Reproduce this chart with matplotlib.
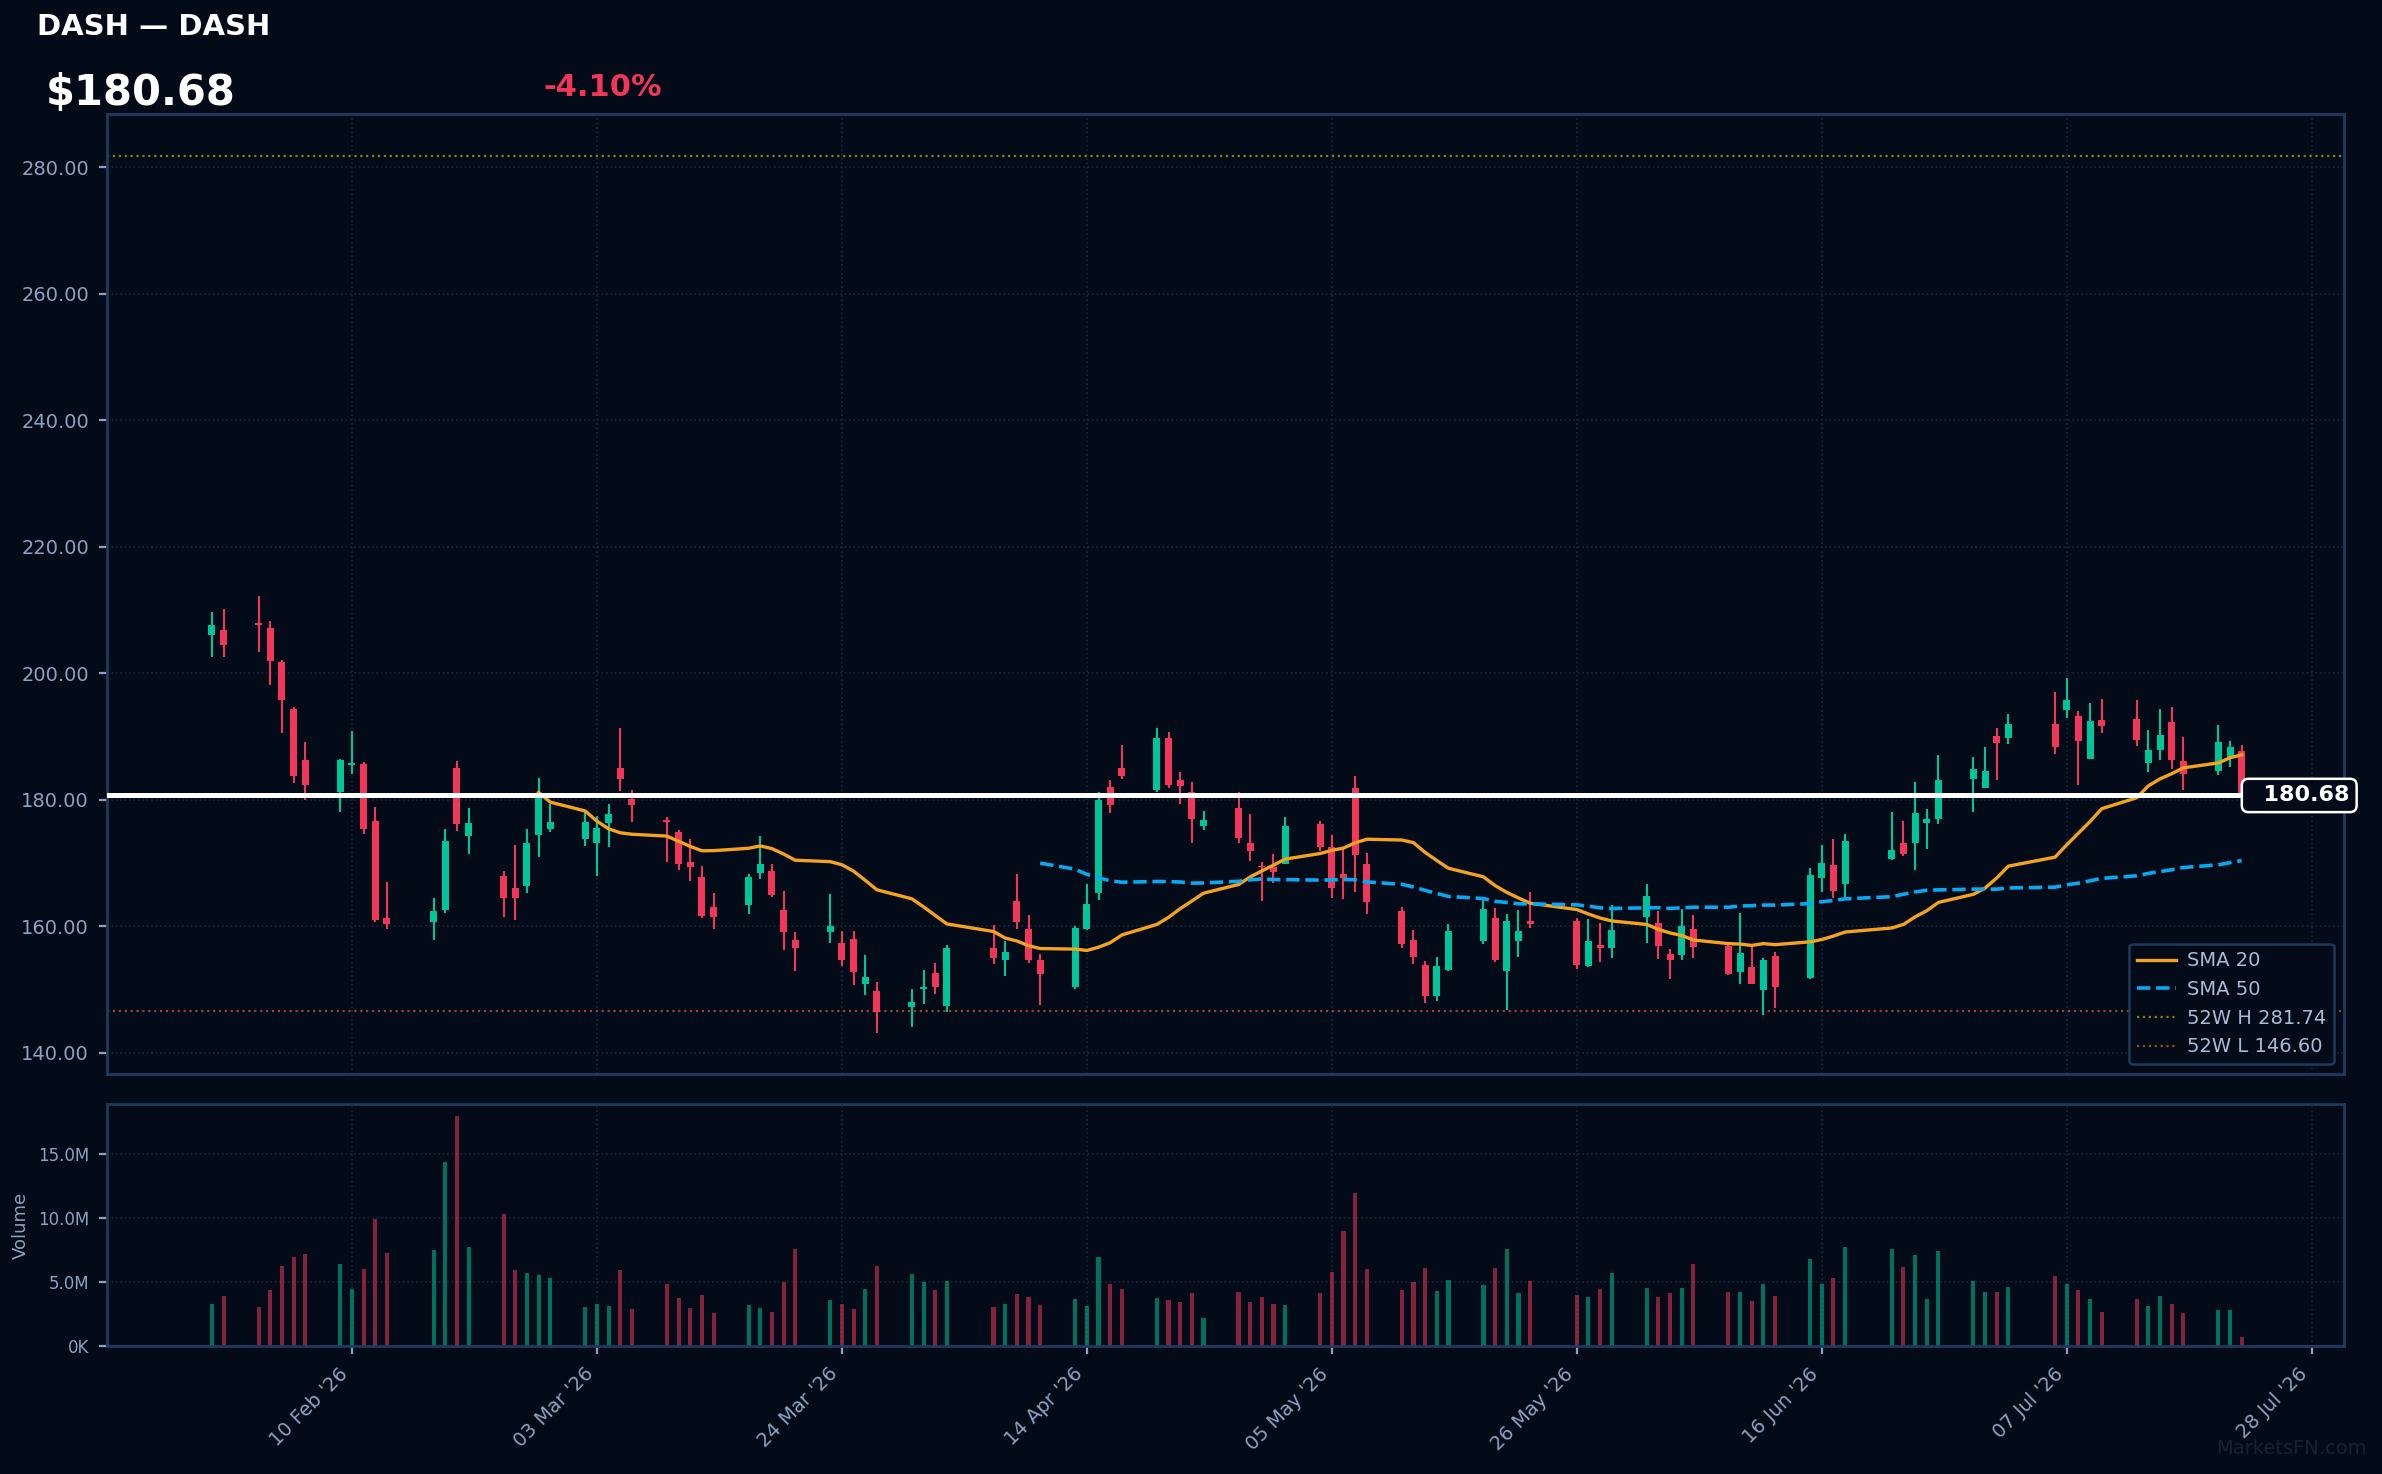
import matplotlib
matplotlib.use("Agg")
import matplotlib.pyplot as plt
import matplotlib.dates as mdates
from matplotlib.lines import Line2D
from matplotlib.ticker import FuncFormatter, FixedLocator
from matplotlib.transforms import blended_transform_factory
import numpy as np
import pandas as pd

# ---------------- data ----------------
ticker = "DASH"
company = "DASH"
high_52w = 281.74
low_52w = 146.60

dates = [
    "2026-01-29", "2026-01-30", "2026-02-02", "2026-02-03", "2026-02-04", "2026-02-05", "2026-02-06",
    "2026-02-09", "2026-02-10", "2026-02-11", "2026-02-12", "2026-02-13",
    "2026-02-17", "2026-02-18", "2026-02-19", "2026-02-20",
    "2026-02-23", "2026-02-24", "2026-02-25", "2026-02-26", "2026-02-27",
    "2026-03-02", "2026-03-03", "2026-03-04", "2026-03-05", "2026-03-06",
    "2026-03-09", "2026-03-10", "2026-03-11", "2026-03-12", "2026-03-13",
    "2026-03-16", "2026-03-17", "2026-03-18", "2026-03-19", "2026-03-20",
    "2026-03-23", "2026-03-24", "2026-03-25", "2026-03-26", "2026-03-27",
    "2026-03-30", "2026-03-31", "2026-04-01", "2026-04-02",
    "2026-04-06", "2026-04-07", "2026-04-08", "2026-04-09", "2026-04-10",
    "2026-04-13", "2026-04-14", "2026-04-15", "2026-04-16", "2026-04-17",
    "2026-04-20", "2026-04-21", "2026-04-22", "2026-04-23", "2026-04-24",
    "2026-04-27", "2026-04-28", "2026-04-29", "2026-04-30", "2026-05-01",
    "2026-05-04", "2026-05-05", "2026-05-06", "2026-05-07", "2026-05-08",
    "2026-05-11", "2026-05-12", "2026-05-13", "2026-05-14", "2026-05-15",
    "2026-05-18", "2026-05-19", "2026-05-20", "2026-05-21", "2026-05-22",
    "2026-05-26", "2026-05-27", "2026-05-28", "2026-05-29",
    "2026-06-01", "2026-06-02", "2026-06-03", "2026-06-04", "2026-06-05",
    "2026-06-08", "2026-06-09", "2026-06-10", "2026-06-11", "2026-06-12",
    "2026-06-15", "2026-06-16", "2026-06-17", "2026-06-18",
    "2026-06-22", "2026-06-23", "2026-06-24", "2026-06-25", "2026-06-26",
    "2026-06-29", "2026-06-30", "2026-07-01", "2026-07-02",
    "2026-07-06", "2026-07-07", "2026-07-08", "2026-07-09", "2026-07-10",
    "2026-07-13", "2026-07-14", "2026-07-15", "2026-07-16", "2026-07-17",
    "2026-07-20", "2026-07-21", "2026-07-22",
]

opens = [
    206.1, 206.8, 207.95, 207.2, 201.8, 194.4, 186.3,
    181.3, 185.5, 185.7, 176.6, 161.3,
    160.7, 162.5, 185.0, 174.2,
    167.95, 166.05, 166.3, 174.4, 175.4,
    173.85, 173.1, 176.4, 185.0, 180.1,
    176.7, 174.9, 170.1, 167.8, 163.05,
    163.4, 168.5, 168.7, 162.6, 157.8,
    159.15, 157.4, 158.0, 150.9, 149.8,
    147.3, 150.1, 152.6, 147.45,
    156.6, 154.6, 164.0, 159.6, 154.7,
    150.45, 159.6, 165.3, 182.0, 185.0,
    181.55, 189.8, 183.1, 181.2, 175.9,
    178.7, 173.2, 169.4, 169.4, 169.85,
    176.2, 172.5, 168.3, 181.9, 169.85,
    162.4, 157.8, 153.9, 149.0, 153.1,
    157.7, 161.3, 153.0, 157.6, 160.8,
    160.8, 153.8, 157.0, 156.6,
    161.5, 160.5, 155.6, 155.5, 159.6,
    156.9, 152.7, 153.6, 150.0, 155.3,
    151.9, 167.7, 169.7, 166.7,
    170.6, 173.2, 173.1, 176.4, 176.95,
    183.3, 181.9, 190.1, 189.8,
    192.0, 194.2, 193.25, 186.45, 192.6,
    192.8, 185.8, 187.9, 192.3, 186.1,
    184.55, 186.8, 187.7,
]

highs = [
    209.7, 210.2, 212.2, 208.3, 202.1, 194.7, 189.1,
    186.4, 190.9, 186.0, 178.9, 167.0,
    164.5, 175.4, 186.1, 178.7,
    168.7, 172.9, 175.4, 183.4, 179.4,
    178.1, 177.4, 179.3, 191.35, 181.55,
    177.3, 175.2, 173.8, 169.5, 165.3,
    168.3, 174.3, 169.85, 165.6, 159.1,
    165.1, 159.25, 159.25, 155.5, 151.2,
    150.1, 153.1, 154.2, 157.0,
    160.2, 157.7, 168.3, 161.8, 155.6,
    160.05, 166.7, 181.2, 183.1, 188.7,
    191.35, 190.7, 184.4, 182.8, 178.2,
    181.2, 177.75, 170.2, 171.4, 177.3,
    176.65, 174.4, 172.4, 183.8, 171.6,
    163.05, 159.4, 154.5, 155.1, 160.4,
    164.3, 162.9, 161.9, 162.6, 165.4,
    161.3, 161.15, 160.5, 163.4,
    166.7, 162.4, 156.4, 162.7, 161.8,
    157.05, 162.1, 157.0, 155.0, 155.9,
    169.2, 172.85, 173.8, 174.6,
    178.1, 176.65, 182.8, 178.5, 187.1,
    186.8, 188.35, 191.35, 193.6,
    197.0, 199.25, 194.0, 195.3, 195.9,
    195.8, 191.0, 194.35, 194.7, 189.9,
    191.8, 189.3, 188.7,
]

lows = [
    202.5, 202.6, 203.4, 198.1, 190.5, 182.7, 180.0,
    178.1, 184.1, 174.6, 160.6, 159.5,
    157.9, 162.05, 175.1, 171.5,
    161.4, 161.05, 165.2, 171.0, 174.9,
    172.7, 168.0, 172.6, 181.4, 176.5,
    170.2, 168.95, 167.2, 161.3, 159.5,
    162.0, 167.5, 164.7, 156.3, 153.0,
    157.4, 153.8, 150.7, 149.1, 143.2,
    144.1, 147.7, 149.3, 146.5,
    154.1, 152.2, 159.6, 154.25, 147.55,
    150.1, 159.4, 164.15, 177.95, 183.3,
    181.2, 181.9, 179.3, 173.2, 175.2,
    173.2, 170.3, 164.0, 166.9, 169.85,
    171.9, 164.5, 164.3, 165.4, 162.0,
    156.5, 154.1, 147.9, 148.2, 153.0,
    157.25, 154.4, 146.8, 155.2, 159.8,
    153.3, 153.6, 154.4, 155.0,
    157.4, 154.9, 151.6, 154.6, 155.0,
    152.35, 150.9, 150.8, 146.0, 147.1,
    151.7, 165.4, 164.4, 164.4,
    170.5, 171.1, 168.9, 172.2, 176.2,
    178.1, 181.9, 183.1, 188.8,
    187.2, 192.9, 182.3, 186.45, 190.55,
    188.5, 184.4, 186.3, 184.9, 181.55,
    183.9, 185.2, 180.4,
]

closes = [
    207.6, 204.5, 207.6, 202.0, 195.8, 183.8, 182.4,
    186.3, 185.6, 175.4, 161.0, 160.3,
    162.4, 173.5, 176.1, 176.3,
    164.5, 164.4, 173.2, 180.9, 176.5,
    176.5, 175.5, 177.75, 183.3, 179.1,
    176.55, 169.9, 169.4, 161.6, 161.4,
    167.8, 169.85, 164.95, 159.15, 156.6,
    160.0, 154.7, 152.8, 152.0, 146.5,
    148.0, 150.2, 150.45, 156.6,
    155.0, 155.9, 160.6, 154.6, 152.5,
    159.7, 163.5, 180.0, 179.2, 183.8,
    189.8, 182.3, 182.2, 176.95, 176.8,
    173.95, 171.9, 169.3, 168.6, 175.85,
    172.5, 166.05, 167.7, 171.3, 163.8,
    157.25, 155.2, 149.0, 153.7, 159.25,
    162.7, 154.6, 160.8, 159.25, 160.3,
    153.9, 157.7, 156.6, 159.4,
    164.8, 156.9, 154.6, 160.0, 156.8,
    152.5, 155.8, 150.9, 154.7, 150.45,
    168.1, 170.0, 165.6, 173.5,
    172.1, 171.4, 177.9, 176.95, 183.1,
    184.9, 184.55, 188.9, 192.0,
    188.35, 195.8, 189.3, 192.45, 191.65,
    189.45, 187.9, 190.25, 186.3, 184.1,
    189.1, 188.4, 180.68,
]

volumes_m = [
    3.27, 3.89, 3.03, 4.36, 6.25, 6.95, 7.19,
    6.40, 4.44, 6.01, 9.93, 7.26,
    7.50, 14.40, 17.93, 7.73,
    10.32, 5.93, 5.70, 5.54, 5.30,
    3.03, 3.27, 3.11, 5.93, 2.87,
    4.83, 3.74, 2.95, 3.97, 2.56,
    3.19, 2.95, 2.64, 4.99, 7.58,
    3.58, 3.27, 2.87, 4.44, 6.25,
    5.62, 4.99, 4.36, 5.07,
    3.03, 3.27, 4.05, 3.81, 3.19,
    3.66, 3.11, 6.95, 4.83, 4.44,
    3.74, 3.58, 3.42, 4.13, 2.17,
    4.21, 3.42, 3.81, 3.27, 3.19,
    4.13, 5.77, 8.99, 11.97, 6.01,
    4.36, 4.99, 6.09, 4.29, 5.15,
    4.76, 6.09, 7.58, 4.13, 5.07,
    3.97, 3.81, 4.44, 5.70,
    4.52, 3.81, 4.13, 4.52, 6.40,
    4.21, 4.21, 3.50, 4.83, 3.89,
    6.79, 4.83, 5.30, 7.73,
    7.58, 6.17, 7.11, 3.66, 7.42,
    5.07, 4.21, 4.21, 4.60,
    5.46, 4.83, 4.36, 3.66, 2.64,
    3.66, 3.11, 3.89, 3.27, 2.56,
    2.80, 2.80, 0.68,
]

tick_dates = ["2026-02-10", "2026-03-03", "2026-03-24", "2026-04-14", "2026-05-05",
              "2026-05-26", "2026-06-16", "2026-07-07", "2026-07-28"]
x_range = ["2026-01-20 00:00", "2026-07-30 18:30"]
price_ticks = [140, 160, 180, 200, 220, 240, 260, 280]
price_range = [136.65, 288.4]
volume_ticks_m = [0, 5, 10, 15]
volume_top_m = 18.9

# ---------------- style ----------------
BG = "#020b17"
UP = "#00c49a"
DOWN = "#f2365a"
SPINE = "#1f3a5c"
GRID = "#16273b"
TICK = "#8ea3c0"
SMA20_C = "#f5a21f"
SMA50_C = "#0aa8f0"
H52_C = "#8a7f18"
L52_C = "#9a4632"

df = pd.DataFrame({"date": pd.to_datetime(dates), "open": opens, "high": highs,
                   "low": lows, "close": closes, "vol": np.array(volumes_m) * 1e6})
df["sma20"] = df["close"].rolling(20).mean()
df["sma50"] = df["close"].rolling(50).mean()
x = mdates.date2num(df["date"])
up = df["close"] >= df["open"]
colors = np.where(up, UP, DOWN)

last = closes[-1]
prev = closes[-2]
chg = (last / prev - 1) * 100

W, H = 2382, 1474
fig = plt.figure(figsize=(W / 200, H / 200), dpi=200, facecolor=BG)
L, R = 107 / W, 2344 / W
ax = fig.add_axes([L, 1 - 1074 / H, R - L, (1074 - 114) / H])
axv = fig.add_axes([L, 1 - 1346 / H, R - L, (1346 - 1104) / H], sharex=ax)

for a in (ax, axv):
    a.set_facecolor(BG)
    for s in a.spines.values():
        s.set_color(SPINE)
        s.set_linewidth(1.0)
    a.grid(True, color=GRID, linestyle=":", linewidth=0.6)
    a.set_axisbelow(True)
    a.tick_params(colors=TICK, labelcolor=TICK)

# candles
ax.vlines(x, df["low"], df["high"], colors=colors, linewidth=0.75, zorder=3)
body_bottom = np.minimum(df["open"], df["close"])
body_h = np.maximum(np.abs(df["close"] - df["open"]), 0.3)
ax.bar(x, body_h, bottom=body_bottom, width=0.6, color=colors, linewidth=0, zorder=4)

# moving averages
ax.plot(x, df["sma20"], color=SMA20_C, linewidth=1.2, zorder=5)
ax.plot(x, df["sma50"], color=SMA50_C, linewidth=1.3, linestyle="--", zorder=5)

# 52 week lines
ax.axhline(high_52w, color=H52_C, linestyle=":", linewidth=0.8, zorder=2)
ax.axhline(low_52w, color=L52_C, linestyle=":", linewidth=0.8, zorder=2)

# last price line + label
ax.axhline(last, color="white", linewidth=1.8, zorder=6)
tr = blended_transform_factory(ax.transAxes, ax.transData)
ax.text(0.9573, last, f"  {last:.2f}", transform=tr, ha="left", va="center", color="white",
        fontsize=8, fontweight="bold", zorder=10, clip_on=False,
        bbox=dict(boxstyle="round,pad=0.3", fc=BG, ec="white", lw=0.9))

ax.set_ylim(*price_range)
ax.yaxis.set_major_locator(FixedLocator(price_ticks))
ax.yaxis.set_major_formatter(FuncFormatter(lambda v, p: f"{v:.2f}"))
ax.tick_params(axis="y", labelsize=7, length=3)
ax.tick_params(axis="x", length=0, labelbottom=False)

handles = [
    Line2D([], [], color=SMA20_C, lw=1.2, label="SMA 20"),
    Line2D([], [], color=SMA50_C, lw=1.3, ls="--", label="SMA 50"),
    Line2D([], [], color=H52_C, lw=0.8, ls=":", label=f"52W H {high_52w:.2f}"),
    Line2D([], [], color=L52_C, lw=0.8, ls=":", label=f"52W L {low_52w:.2f}"),
]
leg = ax.legend(handles=handles, loc="lower right", fontsize=7, facecolor=BG,
                edgecolor=SPINE, labelcolor="#a9bcd6", framealpha=1.0,
                handletextpad=0.6)
leg.get_frame().set_linewidth(0.9)

# volume
axv.bar(x, df["vol"], width=0.35, color=colors, alpha=0.55, linewidth=0)
axv.set_ylim(0, volume_top_m * 1e6)
axv.yaxis.set_major_locator(FixedLocator([v * 1e6 for v in volume_ticks_m]))
axv.yaxis.set_major_formatter(FuncFormatter(
    lambda v, p: f"{v / 1e6:.1f}M" if v >= 1e6 else f"{v / 1e3:.0f}K"))
axv.tick_params(axis="y", labelsize=6, length=3)
axv.set_ylabel("Volume", color=TICK, fontsize=6.5)
axv.yaxis.set_label_coords(-0.0344, 0.5)

axv.xaxis.set_major_locator(FixedLocator(mdates.date2num(pd.to_datetime(tick_dates))))
axv.xaxis.set_major_formatter(mdates.DateFormatter("%d %b '%y"))
axv.tick_params(axis="x", labelsize=7, length=3)
for lab in axv.get_xticklabels():
    lab.set_rotation(45)
    lab.set_ha("right")
axv.set_xlim(*mdates.date2num(pd.to_datetime(x_range, format="%Y-%m-%d %H:%M")))

# header
fig.text(37 / W, 1 - 27 / H, f"{ticker} — {company}", color="white", fontsize=10.5,
         fontweight="bold", va="center", ha="left")
fig.text(46 / W, 1 - 93 / H, f"${last:.2f}", color="white", fontsize=15,
         fontweight="bold", va="center", ha="left")
fig.text(543 / W, 1 - 88 / H, f"{chg:+.2f}%", color=DOWN if chg < 0 else UP, fontsize=11,
         fontweight="bold", va="center", ha="left")
fig.text(2367 / W, 1 - 1448 / H, "MarketsFN.com", color="#142334", fontsize=7,
         ha="right", va="center")

fig.savefig("out.png", dpi=200, facecolor=BG)
